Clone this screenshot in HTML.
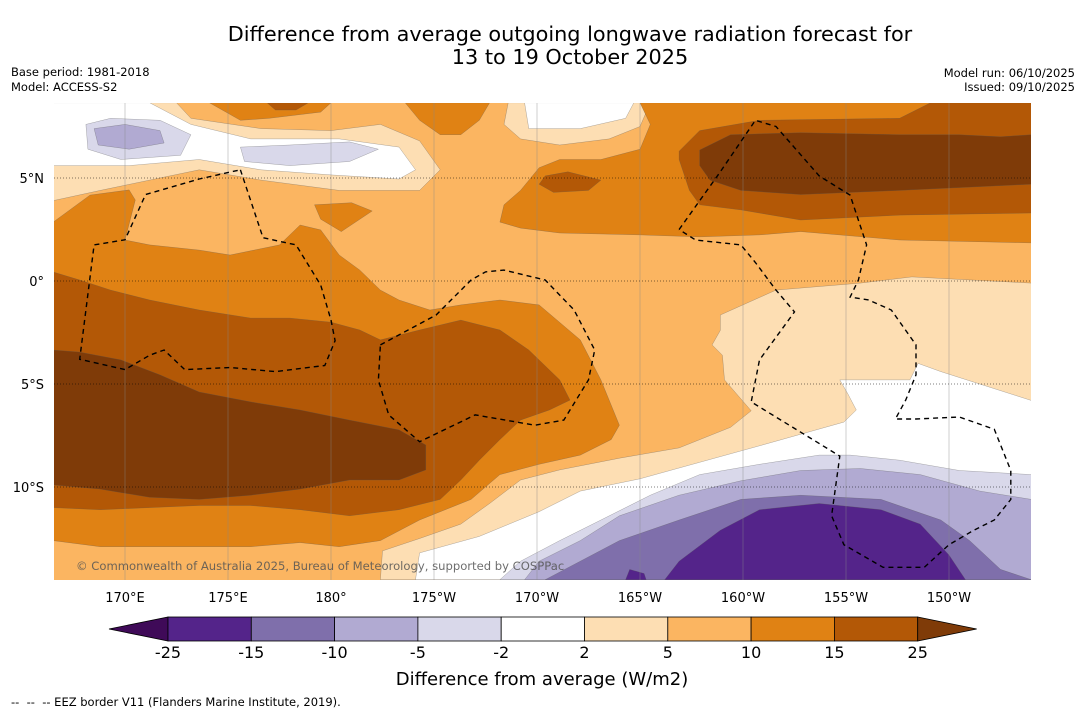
<!DOCTYPE html>
<html><head><meta charset="utf-8">
<style>
body{margin:0;background:#fff;font-family:"DejaVu Sans","Liberation Sans",sans-serif;}
#wrap{position:relative;width:1085px;height:713px;overflow:hidden;background:#fff}
svg text{font-family:"DejaVu Sans","Liberation Sans",sans-serif;}
</style></head>
<body>
<div id="wrap">
<svg id="svg" width="1085" height="713" xmlns="http://www.w3.org/2000/svg">
<text x="570" y="41" font-size="20.8" text-anchor="middle" fill="#000">Difference from average outgoing longwave radiation forecast for</text>
<text x="570" y="64" font-size="20.8" text-anchor="middle" fill="#000">13 to 19 October 2025</text>
<text x="11" y="76" font-size="11.5">Base period: 1981-2018</text>
<text x="11" y="91" font-size="11.5">Model: ACCESS-S2</text>
<text x="1075" y="77" font-size="11.5" text-anchor="end">Model run: 06/10/2025</text>
<text x="1075" y="91" font-size="11.5" text-anchor="end">Issued: 09/10/2025</text>
<defs><clipPath id="mapclip"><rect x="54" y="103" width="977" height="477"/></clipPath></defs>
<g id="map" clip-path="url(#mapclip)"></g>
<g id="axes"></g>
<text x="76" y="570" font-size="11.6" fill="#555" opacity="0.85">© Commonwealth of Australia 2025, Bureau of Meteorology, supported by COSPPac</text>
<g id="cbar"></g>
<text x="542" y="685" font-size="18" text-anchor="middle">Difference from average (W/m2)</text>
<text x="11" y="706" font-size="11.5">-- &#160;-- &#160;-- EEZ border V11 (Flanders Marine Institute, 2019).</text>
</svg>
</div>
<script>
// Colour scale data
const levels = [-25,-15,-10,-5,-2,2,5,10,15,25];
const levelColors = ["#3f0a58","#54248a","#7f6fab","#b1aad2","#d9d8ea","#ffffff","#fddeb3","#fbb561","#e08214","#b35806","#7f3b08"];
// Axis ticks
const lonTicks = [170,175,180,185,190,195,200,205,210];
const lonTickLabels = ["170°E","175°E","180°","175°W","170°W","165°W","160°W","155°W","150°W"];
const latTicks = [5,0,-5,-10];
const latTickLabels = ["5°N","0°","5°S","10°S"];
// Contour regions [lon,lat]; value = colour index
const regionValues = [6,5,4,3,4,8,9,8,6,5,8,9,10];
const regionPolys = [
[[166.5,8.65],[172.5,8.65],[173.2,7.9],[176.6,7.4],[180,7.3],[182.4,7.6],[184.3,6.8],[185.3,5.4],[184.3,4.4],[180.4,4.4],[176.6,4.9],[173.6,5.4],[171.2,4.9],[168.8,4.4],[166.5,3.9]],
[[166.5,8.65],[171.2,8.65],[173.2,7.6],[176.1,6.9],[180.4,6.9],[183.3,6.5],[184.1,5.4],[183.3,4.95],[180,5.15],[176.6,5.4],[173.6,5.9],[170.2,5.6],[166.5,5.6]],
[[168.1,7.6],[169.3,7.9],[171.7,7.8],[173.2,7.1],[172.7,6.1],[169.8,5.9],[168.2,6.4]],
[[168.5,7.4],[170,7.6],[171.7,7.3],[171.9,6.7],[170.2,6.4],[168.7,6.6]],
[[175.6,6.5],[178,6.6],[180.9,6.75],[182.3,6.4],[180.9,5.8],[178,5.6],[175.8,5.8]],
[[174.1,8.65],[180,8.65],[179.5,8.2],[177,7.9],[175.6,7.8]],
[[176.9,8.65],[178.9,8.65],[178.3,8.3],[177.3,8.3]],
[[183.6,8.65],[187.7,8.65],[187.2,7.8],[186.3,7.1],[185.3,7.1],[184.3,7.8]],
[[188.6,8.65],[195.5,8.65],[195,7.5],[193.5,6.9],[191.1,6.6],[189.2,6.9],[188.4,7.6]],
[[189.4,8.65],[194.7,8.65],[194.3,7.9],[192.1,7.4],[189.6,7.4]],
[[195,8.65],[214,8.65],[214,1.85],[207.6,1.99],[202.8,2.4],[200.8,2.24],[197.9,2.14],[195,2.24],[191.1,2.33],[189.2,2.57],[188.2,2.86],[188.4,3.7],[189.2,4.4],[190.1,5.5],[191.1,5.9],[193.1,5.9],[195,6.4],[195.5,7.6]],
[[196.9,6.3],[197.9,7.3],[200.8,7.8],[207.6,7.9],[209.1,8.65],[214,8.65],[214,3.3],[207.6,3.2],[202.8,2.96],[199.9,3.45],[197.9,3.7],[197.4,4.4],[196.9,5.9]],
[[197.9,6.36],[199.4,7.1],[202.8,7.2],[207.6,7.1],[210.5,7.1],[212.5,7.0],[214,7.1],[214,4.7],[207.6,4.4],[202.8,4.2],[199.9,4.4],[198.4,4.9],[197.9,5.6]]
];
const southValues = [6];
const southPolys = [
[[198.9,-1.65],[201.6,-0.44],[205.7,-0.1],[208.2,0.2],[214,-0.1],[214,-14.5],[182.4,-14.5],[182.5,-13.1],[184.3,-12.5],[186.3,-11.8],[187.7,-10.8],[189.2,-9.66],[191.1,-9.17],[194,-8.6],[196.9,-8.1],[199.4,-7.1],[200.4,-6.3],[199.1,-4.8],[199,-3.6],[198.5,-3.1],[198.9,-2.4]]
];
const leftValues = [8,8,9,9,10];
const leftPolys = [
[[166.5,2.85],[168.3,4.17],[170.2,4.42],[170.5,3.93],[170,1.99],[171.2,1.75],[173.6,1.5],[175.1,1.26],[177.5,1.75],[178.5,2.72],[179.5,2.48],[180.4,1.26],[181.4,0.53],[182.4,-0.44],[183.3,-0.92],[184.8,-1.41],[186.3,-1.16],[188.2,-0.92],[190.1,-1.16],[192.1,-2.86],[193.1,-4.8],[194,-7.0],[193.6,-7.7],[192.1,-8.45],[190.1,-8.9],[188.2,-9.4],[186.8,-10.6],[184.3,-11.6],[182.4,-12.6],[180.4,-12.9],[178.5,-12.7],[176.1,-12.9],[173.6,-12.9],[171.2,-12.9],[168.8,-12.9],[166.5,-12.6]],
[[179.2,3.7],[181,3.8],[182,3.4],[180.5,2.4],[179.5,3.0]],
[[190.4,5.1],[191.5,5.3],[193.1,4.9],[192.5,4.4],[190.8,4.3],[190.1,4.7]],
[[166.5,0.44],[167.8,0.05],[169.3,-0.44],[171.2,-0.92],[173.6,-1.41],[176.1,-1.8],[178,-1.8],[180,-2.0],[181.4,-2.38],[182.4,-2.86],[184.3,-2.38],[186.3,-1.9],[188.2,-2.38],[189.6,-3.35],[191.1,-4.8],[191.6,-5.78],[190.6,-6.26],[189.2,-6.75],[188.2,-7.7],[187.2,-8.7],[186.3,-9.66],[185.3,-10.6],[183.3,-11.1],[180.9,-11.4],[178.5,-11.1],[176.1,-10.9],[173.6,-10.9],[171.2,-11.0],[168.8,-11.1],[166.5,-11.0]],
[[166.5,-3.35],[167.8,-3.45],[169.8,-3.83],[171.7,-4.56],[173.6,-5.39],[176.1,-5.87],[178.5,-6.26],[180.9,-6.75],[183.3,-7.23],[184.6,-7.96],[184.6,-9.17],[183.3,-9.66],[180.9,-9.66],[178.5,-10.1],[176.1,-10.4],[173.6,-10.6],[171.2,-10.5],[168.8,-10.1],[166.5,-9.9]]
];
const coldValues = [5,4,3,2,1,1];
const coldPolys = [
[[204.7,-4.8],[208.1,-4.8],[208.5,-4.0],[209.6,-4.4],[214,-5.8],[214,-14.5],[184.1,-14.5],[184.3,-13.2],[187.2,-12.4],[190.1,-11.2],[192.1,-10.2],[195,-9.6],[197.9,-8.8],[200.8,-8.0],[204.9,-6.85],[205.5,-6.26],[205.1,-5.5]],
[[188.2,-14.5],[189.2,-13.6],[191.1,-12.6],[193.1,-11.6],[195.5,-10.4],[197.9,-9.4],[200.8,-8.9],[203.7,-8.45],[205.2,-8.45],[207.6,-8.7],[210.5,-9.2],[214,-9.4],[214,-14.5]],
[[189.4,-14.5],[190.1,-13.6],[192.1,-12.6],[194,-11.4],[196.9,-10.4],[199.9,-9.7],[202.8,-9.2],[205.7,-9.1],[208.6,-9.4],[211.5,-10.2],[214,-10.6],[214,-14.5]],
[[190.4,-14.5],[192.1,-13.6],[194,-12.6],[196.9,-11.6],[199.9,-10.6],[202.8,-10.4],[206.7,-10.6],[209.6,-11.6],[211,-12.6],[212.5,-14.0],[214,-14.5]],
[[196.2,-14.5],[196.9,-13.6],[198.9,-12.1],[200.8,-11.1],[203.7,-10.8],[206.7,-11.1],[208.6,-11.8],[210,-13.3],[210.8,-14.5]],
[[194.3,-14.5],[194.5,-14.0],[195.2,-14.2],[195.3,-14.5]]
];
// EEZ borders
const eezLines = [
[[175.6,5.4],[176.1,3.9],[176.7,2.1],[178.3,1.75],[179.5,-0.2],[180,-1.9],[180.2,-2.9],[179.7,-4.1],[177.3,-4.4],[175.1,-4.2],[172.9,-4.3],[171.9,-3.35],[171.2,-3.6],[170,-4.3],[167.8,-3.8],[168.5,1.75],[170,2.0],[171,4.2],[173.6,4.95],[175.6,5.4]],
[[182.4,-3.1],[185.1,-1.65],[186.8,0.05],[187.5,0.44],[188.4,0.53],[190.4,0.05],[191.8,-1.41],[192.8,-3.35],[192.5,-4.8],[191.3,-6.75],[189.9,-7.0],[187,-6.5],[184.3,-7.8],[182.8,-6.5],[182.3,-4.8],[182.4,-3.1]],
[[196.9,2.5],[198.9,5.3],[200.6,7.8],[201.6,7.5],[203.7,5.1],[205.2,4.17],[206,1.75],[205.6,0.05],[205.2,-0.78],[206.1,-0.92],[207.2,-1.41],[208.4,-3.1],[208.4,-4.56],[207.9,-5.78],[207.4,-6.7],[208.4,-6.7],[210.5,-6.6],[212.2,-7.2],[213,-9.2],[213,-10.6],[212.2,-11.6],[211.2,-12.1],[210,-12.8],[208.8,-13.9],[206.8,-13.9],[204.9,-12.8],[204.3,-11.4],[204.7,-8.5],[200.4,-5.87],[200.8,-3.83],[202.5,-1.5],[201.6,-0.44],[200.6,0.9],[199.9,1.75],[197.7,1.99],[196.9,2.5]]
];

const NS="http://www.w3.org/2000/svg";
const X = lon => 125 + (lon-170)*20.6;
const Y = lat => 281 - lat*20.6;
const map=document.getElementById('map'), axes=document.getElementById('axes'), cbar=document.getElementById('cbar');
function mk(tag, attrs, parent){const e=document.createElementNS(NS,tag);for(const k in attrs)e.setAttribute(k,attrs[k]);parent.appendChild(e);return e;}
const ptsStr = p => p.map(q=>X(q[0]).toFixed(1)+','+Y(q[1]).toFixed(1)).join(' ');

const bg = mk('rect',{x:54,y:103,width:977,height:477,fill:levelColors[7]},map);


function drawRegions(polys, vals, nm){
  polys.forEach((p,i)=>{
    const el=mk('polygon',{points:ptsStr(p),fill:levelColors[vals[i]],stroke:'#555','stroke-width':0.4,'stroke-opacity':0.6},map);
    
    
  });
}
drawRegions(regionPolys, regionValues,'contour-region');
drawRegions(southPolys, southValues,'contour-region-south');
drawRegions(leftPolys, leftValues,'contour-region-west');
drawRegions(coldPolys, coldValues,'contour-region-cold');

lonTicks.forEach((lon,i)=>{
  const l=mk('line',{x1:X(lon),x2:X(lon),y1:103,y2:580,stroke:'#888','stroke-width':0.5,'stroke-opacity':0.8},map);
  
  
  const t=mk('text',{x:X(lon),y:602,'font-size':13,'text-anchor':'middle'},axes);
  t.textContent=lonTickLabels[i];
  
  
});
latTicks.forEach((lat,i)=>{
  const l=mk('line',{x1:54,x2:1031,y1:Y(lat),y2:Y(lat),stroke:'#000','stroke-width':0.6,'stroke-dasharray':'1,2'},map);
  
  
  const t=mk('text',{x:44,y:Y(lat)+5,'font-size':13,'text-anchor':'end'},axes);
  t.textContent=latTickLabels[i];
  
  
});
eezLines.forEach(p=>{
  const e=mk('polyline',{points:ptsStr(p),fill:'none',stroke:'#000','stroke-width':1.4,'stroke-dasharray':'5,4'},map);
  
  
});

const cbX0=168, cbW=83.3, cbY=617, cbH=24;
const lt=mk('polygon',{points:`109,${cbY+cbH/2} ${cbX0},${cbY} ${cbX0},${cbY+cbH}`,fill:levelColors[0],stroke:'#000','stroke-width':0.8},cbar);


for(let i=0;i<levels.length-1;i++){
  const r=mk('rect',{x:cbX0+i*cbW,y:cbY,width:cbW,height:cbH,fill:levelColors[i+1],stroke:'#000','stroke-width':0.8},cbar);
  
  
}
const xe=cbX0+(levels.length-1)*cbW;
const rt=mk('polygon',{points:`${xe},${cbY} ${xe+59},${cbY+cbH/2} ${xe},${cbY+cbH}`,fill:levelColors[10],stroke:'#000','stroke-width':0.8},cbar);


levels.forEach((v,i)=>{
  const t=mk('text',{x:cbX0+i*cbW,y:658,'font-size':16,'text-anchor':'middle'},cbar);
  t.textContent=String(v);
  
  
});
</script>
</body></html>
